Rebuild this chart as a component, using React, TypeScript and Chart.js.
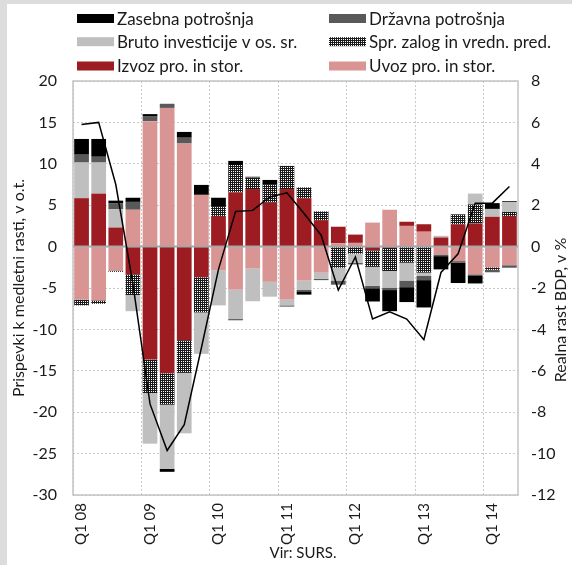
import React, { useEffect, useRef } from 'react';
import { Chart, registerables } from 'chart.js';

Chart.register(...registerables);

const W = 572;
const H = 565;
const FONT = 'Lato, "Noto Sans", sans-serif';

const quarters = [
  'Q1 08', 'Q2 08', 'Q3 08', 'Q4 08',
  'Q1 09', 'Q2 09', 'Q3 09', 'Q4 09',
  'Q1 10', 'Q2 10', 'Q3 10', 'Q4 10',
  'Q1 11', 'Q2 11', 'Q3 11', 'Q4 11',
  'Q1 12', 'Q2 12', 'Q3 12', 'Q4 12',
  'Q1 13', 'Q2 13', 'Q3 13', 'Q4 13',
  'Q1 14', 'Q2 14',
];

const uvoz = [-6.4, -6.5, -2.9, 4.45, 15.15, 16.75, 12.45, 6.25, -2.85, -5.2, -2.65, -4.25, -6.4, -4.1, -3.15, 0.4, 0.45, 2.9, 4.45, 2.5, 1.8, -0.95, -1.75, -3.35, -2.5, -2.25];
const izvoz = [5.85, 6.4, 2.3, -3.35, -13.65, -15.3, -11.3, -3.7, 3.7, 6.55, 6.95, 5.3, 6.95, 5.85, 3.2, 2.0, 1.0, -0.45, -0.15, 0.5, 0.9, 1.1, 2.7, 2.8, 3.6, 3.7];
const zalogi = [-0.7, -0.4, -0.15, -2.5, -4.05, -3.8, -3.95, -4.25, 1.1, 3.3, 1.35, 2.25, 2.8, 1.3, 1.05, -2.55, -0.85, -2.0, -2.8, -1.95, -3.15, 0, 1.2, 2.3, -0.3, 0.5];
const bruto = [4.3, 3.75, 2.2, -1.95, -6.1, -7.75, -7.3, -5.0, -4.25, -3.55, -3.95, -1.8, -0.7, -1.1, -0.75, -1.55, -1.1, -2.3, -2.0, -2.15, -0.4, 0.2, 0, 1.3, 0.95, 1.2];
const drzavna = [0.95, 0.7, 0.7, 0.95, 0.55, 0.5, 0.7, 0, 0, -0.15, 0.15, 0, -0.15, -0.2, -0.15, -0.5, -0.2, -0.28, -0.3, -0.8, -0.5, -0.2, -0.2, -0.2, -0.3, -0.3];
const zasebna = [1.9, 2.15, 0.35, 0.5, 0.3, -0.35, 0.7, 1.2, 1.1, 0.5, 0, 0.5, 0, -0.4, 0, 0, 0, -1.6, -2.55, -1.8, -3.3, -1.6, -2.45, -0.9, 0.7, 0.1];
const bdp = [5.9, 6.0, 3.0, -1.8, -7.6, -9.85, -8.6, -4.9, -1.1, 1.7, 1.75, 2.4, 2.6, 1.6, 0.55, -2.1, -0.5, -3.5, -3.15, -3.5, -4.5, -1.25, -0.35, 2.1, 2.1, 2.9];

const leftTicksMin = -30;
const leftTicksMax = 20;
const rightTicksMin = -12;
const rightTicksMax = 8;

const COL_ZAS = '#000000';
const COL_DRZ = '#595959';
const COL_BRU = '#bfbfbf';
const COL_IZV = '#9c1c22';
const COL_UVO = '#d99594';

function makePattern(): CanvasPattern | string {
  const c = document.createElement('canvas');
  c.width = 4;
  c.height = 4;
  const g = c.getContext('2d');
  if (!g) return '#444';
  g.fillStyle = '#1a1a1a';
  g.fillRect(0, 0, 4, 4);
  g.fillStyle = '#ffffff';
  g.fillRect(1, 1, 1, 1);
  g.fillRect(3, 3, 1, 1);
  g.fillRect(1, 3, 1, 1);
  g.fillRect(3, 1, 1, 1);
  return g.createPattern(c, 'repeat') || '#444';
}

export default function App() {
  const ref = useRef<HTMLCanvasElement>(null);

  useEffect(() => {
    const canvas = ref.current;
    if (!canvas) return;
    const pattern = makePattern();

    const legendItems = [
      { text: 'Zasebna potrošnja', fill: COL_ZAS, col: 0, row: 0 },
      { text: 'Državna potrošnja', fill: COL_DRZ, col: 1, row: 0 },
      { text: 'Bruto investicije v os. sr.', fill: COL_BRU, col: 0, row: 1 },
      { text: 'Spr. zalog in vredn. pred.', fill: pattern, col: 1, row: 1 },
      { text: 'Izvoz pro. in stor.', fill: COL_IZV, col: 0, row: 2 },
      { text: 'Uvoz pro. in stor.', fill: COL_UVO, col: 1, row: 2 },
    ];

    const deco = {
      id: 'deco',
      beforeDraw(chart: any) {
        const ctx = chart.ctx;
        ctx.save();
        ctx.fillStyle = '#ffffff';
        ctx.fillRect(0, 0, W, H);
        ctx.fillStyle = '#dcdcdc';
        ctx.fillRect(0, 0, W, 4);
        ctx.fillRect(0, 0, 7, H);
        ctx.restore();
      },
      beforeDatasetDraw(chart: any, args: any) {
        if (args.meta.type !== 'line') return;
        const ctx = chart.ctx;
        const a = chart.chartArea;
        const y0 = chart.scales.y.getPixelForValue(0);
        ctx.save();
        ctx.strokeStyle = '#c4c4c4';
        ctx.lineWidth = 1.5;
        ctx.strokeRect(a.left, a.top, a.right - a.left, a.bottom - a.top);
        ctx.strokeStyle = '#a6a6a6';
        ctx.lineWidth = 2;
        ctx.beginPath();
        ctx.moveTo(a.left, y0);
        ctx.lineTo(a.right, y0);
        ctx.stroke();
        ctx.restore();
      },
      afterDraw(chart: any) {
        const ctx = chart.ctx;
        ctx.save();
        ctx.fillStyle = '#1a1a1a';
        ctx.font = `16px ${FONT}`;
        ctx.textAlign = 'center';
        ctx.textBaseline = 'middle';
        // left title
        ctx.save();
        ctx.translate(19, 288);
        ctx.rotate(-Math.PI / 2);
        ctx.fillText('Prispevki k medletni rasti, v o.t.', 0, 0);
        ctx.restore();
        // right title
        ctx.save();
        ctx.translate(561, 310);
        ctx.rotate(-Math.PI / 2);
        ctx.fillText('Realna rast BDP, v %', 0, 0);
        ctx.restore();
        // source
        ctx.font = `15px ${FONT}`;
        ctx.fillText('Vir: SURS.', 303, 553);
        // legend
        ctx.font = `17px ${FONT}`;
        ctx.textAlign = 'left';
        const colX = [77, 329];
        const rowY = [18.5, 41.7, 66];
        legendItems.forEach((it) => {
          const x = colX[it.col];
          const y = rowY[it.row];
          ctx.fillStyle = it.fill as any;
          ctx.fillRect(x, y - 4.5, 37, 9);
          ctx.fillStyle = '#1a1a1a';
          ctx.fillText(it.text, x + 40, y + 1);
        });
        ctx.restore();
      },
    };

    const barDs = (label: string, data: number[], color: any) => ({
      type: 'bar' as const,
      label,
      data,
      backgroundColor: color,
      borderWidth: 0,
      stack: 's',
      order: 1,
      yAxisID: 'y',
      barPercentage: 0.86,
      categoryPercentage: 1,
    });

    const chart = new Chart(canvas, {
      type: 'bar',
      data: {
        labels: quarters,
        datasets: [
          barDs('Uvoz pro. in stor.', uvoz, COL_UVO),
          barDs('Izvoz pro. in stor.', izvoz, COL_IZV),
          barDs('Spr. zalog in vredn. pred.', zalogi, pattern),
          barDs('Bruto investicije v os. sr.', bruto, COL_BRU),
          barDs('Državna potrošnja', drzavna, COL_DRZ),
          barDs('Zasebna potrošnja', zasebna, COL_ZAS),
          {
            type: 'line' as const,
            label: 'Realna rast BDP',
            data: bdp,
            yAxisID: 'y2',
            borderColor: '#000000',
            borderWidth: 1.5,
            pointRadius: 0,
            tension: 0,
            fill: false,
            order: 0,
          } as any,
        ],
      },
      options: {
        responsive: false,
        animation: false,
        devicePixelRatio: 1,
        layout: { padding: { top: 81, left: 0, right: 0, bottom: 0 } },
        plugins: {
          legend: { display: false },
          tooltip: { enabled: false },
          title: { display: false },
        },
        scales: {
          x: {
            stacked: true,
            offset: true,
            grid: {
              offset: true,
              drawTicks: false,
              lineWidth: 1,
              color: (c: any) => (c.index % 4 === 0 ? '#c8c8c8' : 'rgba(0,0,0,0)'),
            },
            border: { display: false, dash: [2, 2] },
            ticks: {
              autoSkip: false,
              maxRotation: 90,
              minRotation: 90,
              padding: 8,
              color: '#1a1a1a',
              font: { family: FONT, size: 15 },
              callback: (_v: any, i: number) => (i % 4 === 0 ? quarters[i] : ''),
            },
            afterFit: (s: any) => {
              s.height = 70;
            },
          },
          y: {
            stacked: true,
            position: 'left',
            min: leftTicksMin,
            max: leftTicksMax,
            grid: { drawTicks: false, color: '#c8c8c8', lineWidth: 1 },
            border: { display: false, dash: [2, 2] },
            ticks: {
              stepSize: 5,
              padding: 16,
              color: '#1a1a1a',
              font: { family: FONT, size: 16 },
            },
            afterFit: (s: any) => {
              s.width = 73;
            },
          },
          y2: {
            position: 'right',
            min: rightTicksMin,
            max: rightTicksMax,
            grid: { display: false, drawTicks: false },
            border: { display: false },
            ticks: {
              stepSize: 2,
              padding: 13,
              color: '#1a1a1a',
              font: { family: FONT, size: 16 },
            },
            afterFit: (s: any) => {
              s.width = 54;
            },
          },
        },
      } as any,
      plugins: [deco],
    });

    return () => {
      chart.destroy();
    };
  }, []);

  return (
    <div style={{ position: 'absolute', left: 0, top: 0, width: W, height: H, background: '#fff' }}>
      <canvas ref={ref} width={W} height={H} style={{ display: 'block', width: W, height: H }} />
    </div>
  );
}
